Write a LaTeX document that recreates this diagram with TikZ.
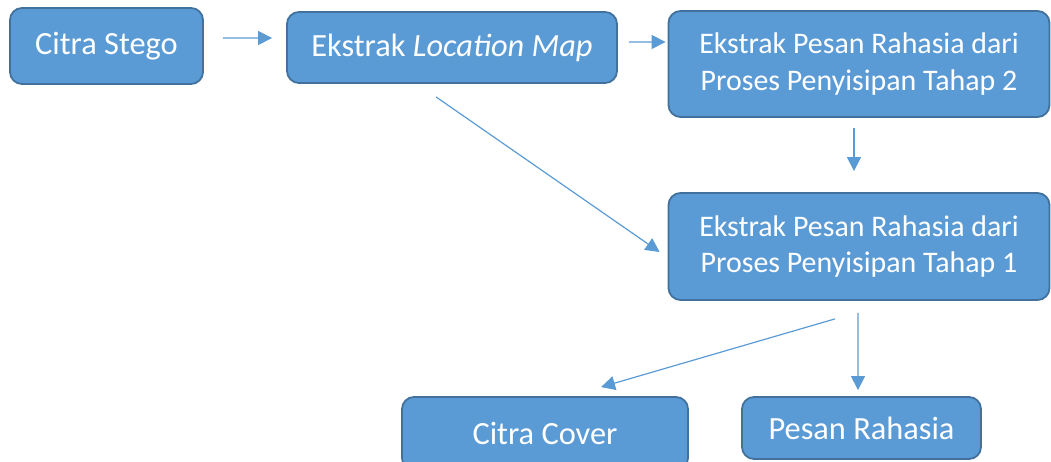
\documentclass[tikz,border=0pt]{standalone}
\usepackage{fontspec}
\setmainfont{Carlito}
\usetikzlibrary{arrows.meta}
\definecolor{boxfill}{HTML}{5B9BD5}
\definecolor{boxline}{HTML}{41719C}
\definecolor{arrowc}{HTML}{5B9BD5}
\begin{document}
\begin{tikzpicture}[x=1bp,y=-1bp,
  box/.style={draw=boxline, line width=1.8bp, fill=boxfill, rounded corners=12bp,
    text=white, align=center, inner sep=0pt,
    font=\fontsize{32.5}{38}\selectfont},
  twoline/.style={font=\fontsize{30}{37}\selectfont},
  arr/.style={draw=arrowc, line width=1.2bp, -{Triangle[length=14bp,width=14bp]}}]
\useasboundingbox (0,0) rectangle (1051,462);
\node[box, minimum width=193bp, minimum height=76bp] (b1) at (106.5,46) {Citra Stego};
\node[box, minimum width=330bp, minimum height=71bp] (b2) at (452,47.5) {Ekstrak \textit{Location Map}};
\node[box, twoline, minimum width=381bp, minimum height=106bp] (b3) at (859,64) {Ekstrak Pesan Rahasia dari\\Proses Penyisipan Tahap 2};
\node[box, twoline, minimum width=381bp, minimum height=107bp] (b4) at (859,246.5) {Ekstrak Pesan Rahasia dari\\Proses Penyisipan Tahap 1};
\node[box, minimum width=286bp, minimum height=73bp] (b5) at (545,433.5) {Citra Cover};
\node[box, minimum width=239bp, minimum height=62bp] (b6) at (861.5,428) {Pesan Rahasia};
\draw[arr] ([xshift=19bp,yshift=8bp]b1.east) -- ([xshift=-14bp,yshift=9.5bp]b2.west);
\draw[arr] ([xshift=11bp,yshift=5.5bp]b2.east) -- ([xshift=-2bp,yshift=22bp]b3.west);
\draw[arr] ([xshift=-5bp,yshift=-10bp]b3.south) -- ([xshift=-5bp,yshift=21bp]b4.north);
\draw[arr] ([xshift=-16bp,yshift=-13bp]b2.south) -- ([xshift=-8bp,yshift=-5.5bp]b4.west);
\draw[arr] ([xshift=-24bp,yshift=-18bp]b4.south) -- ([xshift=56bp,yshift=9bp]b5.north);
\draw[arr] ([xshift=-1bp,yshift=-12bp]b4.south) -- ([xshift=-3.5bp,yshift=6bp]b6.north);
\end{tikzpicture}
\end{document}
